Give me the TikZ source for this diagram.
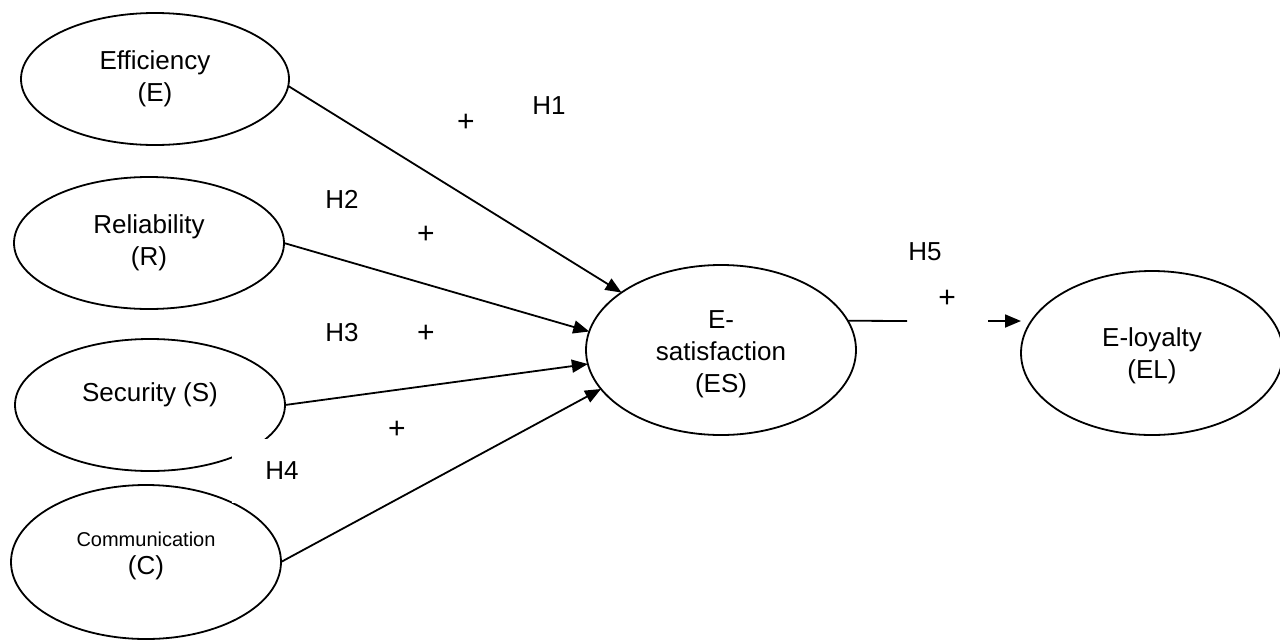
\documentclass[tikz,border=0pt]{standalone}
\usepackage{fontspec}
\setmainfont{Liberation Sans}
\usetikzlibrary{shapes.geometric,arrows.meta}
\begin{document}
\begin{tikzpicture}[x=1pt,y=-1pt,
  construct/.style={ellipse,draw,line width=1.8pt,inner sep=0pt,outer sep=0pt},
  caption/.style={inner sep=0pt,align=center,font=\fontsize{26}{32}\selectfont},
  smallcaption/.style={inner sep=0pt,align=center,font=\fontsize{20}{24}\selectfont},
  link/.style={line width=1.8pt,-{Triangle[length=16pt,width=13pt]}},
  plain/.style={line width=1.8pt},
  sign/.style={inner sep=0pt,font=\fontsize{26}{32}\selectfont},
  plus/.style={inner sep=0pt,font=\fontsize{30}{32}\selectfont}
]
\useasboundingbox (0,0) rectangle (1280,643);

% constructs
\node[construct,minimum width=268pt,minimum height=132pt] (E) at (155,79) {};
\node[caption] (Et) at (155,79) {Efficiency\\(E)};

\node[construct,minimum width=270pt,minimum height=132pt] (R) at (149,243) {};
\node[caption] (Rt) at (149,243) {Reliability\\(R)};

\node[construct,minimum width=270pt,minimum height=132pt] (S) at (150,405) {};
\node[caption] (St) at (150,395) {Security (S)};

\node[construct,minimum width=270pt,minimum height=154pt] (C) at (146,562) {};
\node[smallcaption] (Ct1) at (146,539) {Communication};
\node[caption] (Ct2) at (146,568) {(C)};

\node[construct,minimum width=270pt,minimum height=170pt] (ES) at (721,350) {};
\node[caption] (ESt) at (721,354) {E-\\satisfaction\\(ES)};

\node[construct,minimum width=262pt,minimum height=164pt] (EL) at (1152,353) {};
\node[caption] (ELt) at (1152,356) {E-loyalty\\(EL)};

% paths into E-satisfaction
\draw[link] (E.-3) -- (ES.150.3);
\draw[link] (R.0) -- (ES.172.3);
\draw[link] (S.0) -- (ES.186.2);
\draw[link] (C.0) -- (ES.198.7);

% path from E-satisfaction to E-loyalty, broken around its sign
\coordinate (h5a) at (907,321);
\coordinate (h5b) at (988,321);
\draw[plain] (ES.13.5) -- (h5a);
\draw[link] (h5b) -- (h5b -| EL.west);

% hypothesis labels
\node[plus] (p1) at (466,123) {+};
\node[sign] (h1) at (549,106) {H1};
\node[sign] (h2) at (342,199) {H2};
\node[plus] (p2) at (426,235) {+};
\node[sign] (h3) at (342,333) {H3};
\node[plus] (p3) at (426,334) {+};
\node[plus] (p4) at (397,430) {+};
\node[sign,fill=white,minimum width=100pt,minimum height=64pt] (h4) at (282,471) {H4};
\node[sign] (h5) at (925,252) {H5};
\node[plus] (p5) at (947,299) {+};
\end{tikzpicture}
\end{document}
